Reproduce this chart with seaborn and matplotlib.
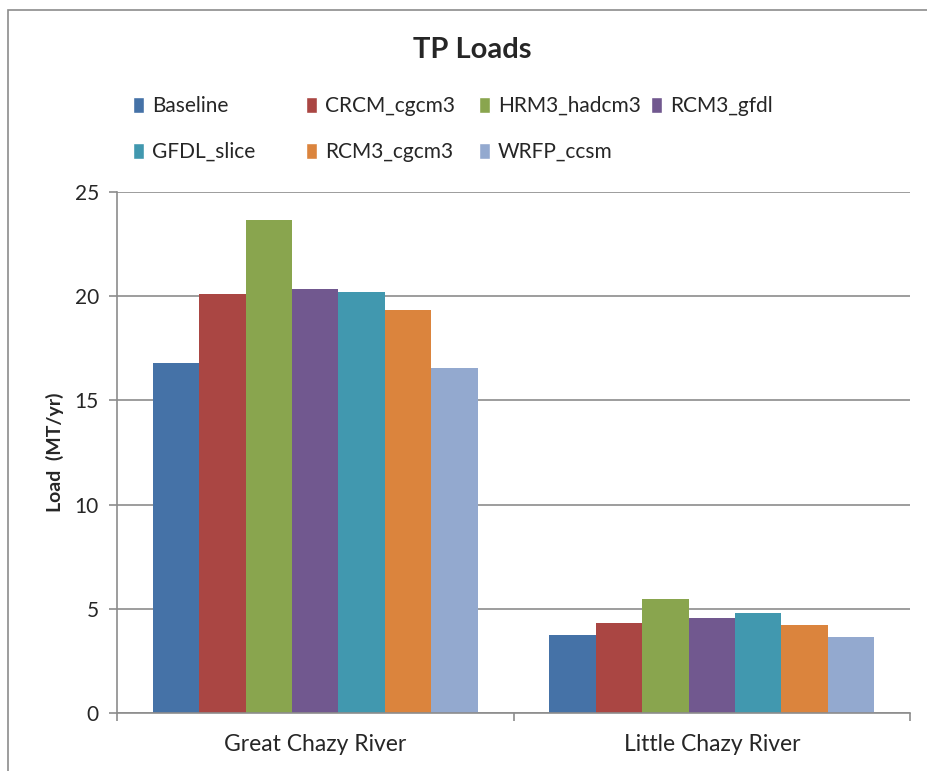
import pandas as pd
import seaborn as sns
import matplotlib.pyplot as plt
from matplotlib.patches import Rectangle

# chart values
rivers = ['Great Chazy River', 'Little Chazy River']
scenarios = ['Baseline', 'CRCM_cgcm3', 'HRM3_hadcm3', 'RCM3_gfdl',
             'GFDL_slice', 'RCM3_cgcm3', 'WRFP_ccsm']
great_chazy = [16.8, 20.1, 23.65, 20.35, 20.2, 19.35, 16.55]
little_chazy = [3.72, 4.3, 5.47, 4.56, 4.8, 4.22, 3.65]
colors = ['#4572A7', '#AA4643', '#89A54E', '#71588F', '#4198AF', '#DB843D', '#93A9CF']

rows = []
for s, g, l in zip(scenarios, great_chazy, little_chazy):
    rows.append({'river': rivers[0], 'scenario': s, 'load': g})
    rows.append({'river': rivers[1], 'scenario': s, 'load': l})
df = pd.DataFrame(rows)

sns.set_style('white')
plt.rcParams['font.family'] = ['Lato', 'DejaVu Sans']

fig = plt.figure(figsize=(9.27, 7.71), dpi=100)
ax = fig.add_axes([117 / 927, 1 - 713 / 771, (910 - 117) / 927, (713 - 192) / 771])

sns.barplot(data=df, x='river', y='load', hue='scenario', order=rivers,
            hue_order=scenarios, palette=colors, saturation=1, width=0.82,
            edgecolor='none', ax=ax, legend=False)

ax.set_ylim(0, 25)
ax.set_xlim(-0.5, 1.5)
ax.set_yticks([0, 5, 10, 15, 20, 25])
ax.yaxis.grid(True, color='#8c8c8c', linewidth=1.2)
ax.set_axisbelow(True)
for side in ['top', 'right']:
    ax.spines[side].set_visible(False)
ax.spines['left'].set_color('#8c8c8c')
ax.spines['bottom'].set_color('#8c8c8c')
ax.spines['left'].set_linewidth(1.2)
ax.spines['bottom'].set_linewidth(1.2)

# x ticks at category boundaries, labels centered
ax.set_xticks([-0.5, 0.5, 1.5])
ax.set_xticklabels([])
ax.set_xticks([0, 1], minor=True)
ax.set_xticklabels(rivers, minor=True, fontsize=16.5)
ax.tick_params(axis='x', which='major', length=6, color='#8c8c8c', width=1.2, direction='out')
ax.tick_params(axis='x', which='minor', length=0, pad=15)
ax.tick_params(axis='y', length=6, color='#8c8c8c', width=1.2, direction='out', labelsize=15, pad=7)
ax.tick_params(axis='both', which='both', bottom=True, left=True)

ax.set_xlabel('')
ax.set_ylabel('Load  (MT/yr)', fontsize=14, fontweight='bold', labelpad=8)

fig.text(472 / 927, 1 - 50 / 771, 'TP Loads', ha='center', va='center',
         fontsize=21, fontweight='bold')

# legend: one small legend per column so the columns sit evenly like Excel
handles = [Rectangle((0, 0), 1, 1, facecolor=c) for c in colors]
columns = [[0, 4], [1, 5], [2, 6], [3]]
col_x = [133, 306, 479, 651]
for idx, x in zip(columns, col_x):
    fig.legend([handles[i] for i in idx], [scenarios[i] for i in idx],
               loc='upper left', bbox_to_anchor=(x / 927, 1 - 96 / 771),
               frameon=False, fontsize=15, handlelength=0.55, handleheight=0.8,
               handletextpad=0.35, labelspacing=1.25, borderpad=0, borderaxespad=0)

# outer chart border
fig.patches.append(Rectangle((8 / 927, -0.1), 1.1, 1 - 10 / 771 + 0.1,
                             transform=fig.transFigure, fill=False,
                             edgecolor='#8c8c8c', linewidth=1.2))

fig.savefig('out.png', dpi=100)
